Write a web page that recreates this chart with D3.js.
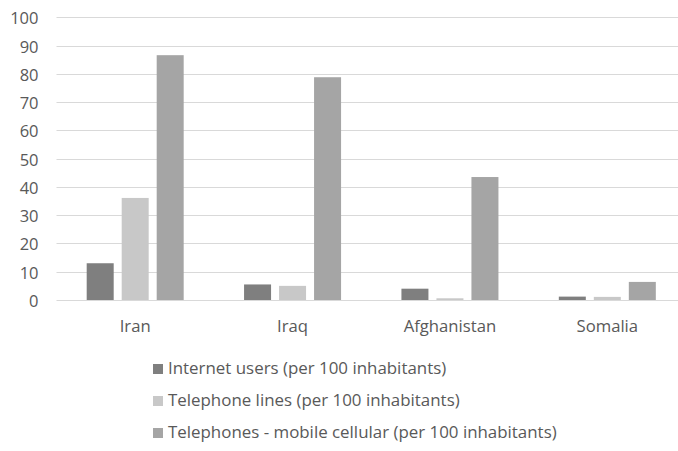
<!DOCTYPE html>
<html>
<head>
<meta charset="utf-8">
<script src="https://cdn.jsdelivr.net/npm/d3@7"></script>
<style>
  html, body { margin: 0; padding: 0; background: #fff; }
  svg { display: block; font-family: "Open Sans", sans-serif; }
</style>
</head>
<body>
<svg id="chart" width="678" height="451"></svg>
<script>
// Countries shown along the x axis
const countries = ["Iran", "Iraq", "Afghanistan", "Somalia"];

// Indicator names (legend order)
const seriesNames = [
  "Internet users (per 100 inhabitants)",
  "Telephone lines (per 100 inhabitants)",
  "Telephones - mobile cellular (per 100 inhabitants)"
];

// Values per country, one array per indicator
const internetUsers   = [13.0, 5.5, 4.0, 1.2];
const telephoneLines  = [36.1, 5.0, 0.6, 1.1];
const mobileCellular  = [86.6, 78.8, 43.5, 6.4];

const yTicks = [0, 10, 20, 30, 40, 50, 60, 70, 80, 90, 100];
const colors = ["#7f7f7f", "#c8c8c8", "#a5a5a5"];

const seriesValues = [internetUsers, telephoneLines, mobileCellular];

const svg = d3.select("#chart");

const x0 = d3.scaleBand()
  .domain(countries)
  .range([56.5, 686])
  .padding(0);

const x1 = d3.scaleBand()
  .domain(seriesNames)
  .range([-52.5, 52.5])
  .paddingInner(8 / 35)
  .paddingOuter(4 / 35);

const y = d3.scaleLinear()
  .domain([0, 100])
  .range([300, 17.3]);

// Horizontal gridlines
svg.append("g")
  .selectAll("line")
  .data(yTicks)
  .join("line")
  .attr("x1", 56.5)
  .attr("x2", 678)
  .attr("y1", d => Math.round(y(d)) + 0.5)
  .attr("y2", d => Math.round(y(d)) + 0.5)
  .attr("stroke", "#d9d9d9")
  .attr("stroke-width", 1);

// Y axis labels
svg.append("g")
  .selectAll("text")
  .data(yTicks)
  .join("text")
  .attr("x", 38.5)
  .attr("y", d => y(d) + 1)
  .attr("dy", "0.36em")
  .attr("text-anchor", "end")
  .attr("font-size", 16.5)
  .attr("fill", "#595959")
  .text(d => d);

// Bars
const groups = svg.append("g")
  .selectAll("g")
  .data(countries)
  .join("g")
  .attr("transform", d => `translate(${x0(d) + x0.bandwidth() / 2},0)`);

groups.selectAll("rect")
  .data((c, ci) => seriesNames.map((s, si) => ({ s, si, v: seriesValues[si][ci] })))
  .join("rect")
  .attr("x", d => x1(d.s))
  .attr("width", x1.bandwidth())
  .attr("y", d => y(d.v))
  .attr("height", d => y(0) - y(d.v))
  .attr("fill", d => colors[d.si]);

// Category labels
svg.append("g")
  .selectAll("text")
  .data(countries)
  .join("text")
  .attr("x", d => x0(d) + x0.bandwidth() / 2)
  .attr("y", 332)
  .attr("text-anchor", "middle")
  .attr("font-size", 16.7)
  .attr("fill", "#595959")
  .text(d => d);

// Legend
const legend = svg.append("g")
  .selectAll("g")
  .data(seriesNames)
  .join("g")
  .attr("transform", (d, i) => `translate(153,${368 + i * 32})`);

legend.append("rect")
  .attr("x", 0)
  .attr("y", -4)
  .attr("width", 10)
  .attr("height", 10)
  .attr("fill", (d, i) => colors[i]);

legend.append("text")
  .attr("x", 15)
  .attr("y", 0)
  .attr("dy", "0.36em")
  .attr("font-size", 16.9)
  .attr("fill", "#595959")
  .text(d => d);
</script>
</body>
</html>
